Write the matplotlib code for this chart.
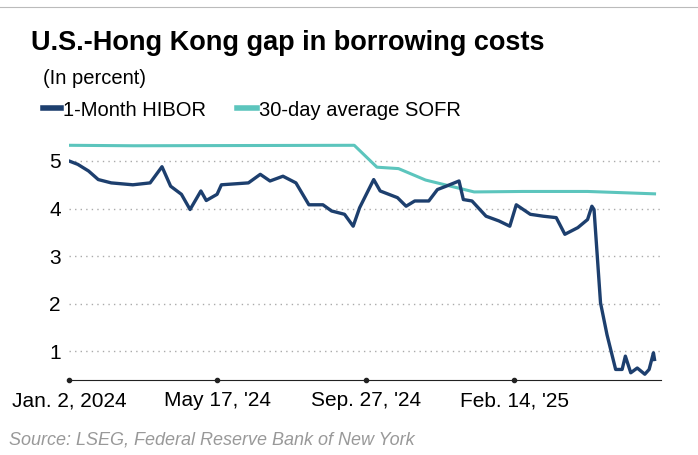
import matplotlib
matplotlib.use("Agg")
import matplotlib.pyplot as plt
import numpy as np

# days since Jan 2, 2024
hibor_days = [0,8,18,27,39,59,75,86,94,104,112,122,127,137,141,166,177,186,198,210,222,235,243,255,263,269,282,288,304,312,320,333,341,349,361,365,373,386,398,408,414,427,439,451,459,471,480,484,486,492,498,506,512,515,520,526,533,537,541,542]
hibor = [5.0,4.93,4.79,4.61,4.54,4.5,4.54,4.88,4.47,4.3,3.98,4.37,4.17,4.3,4.5,4.54,4.72,4.58,4.68,4.54,4.08,4.08,3.95,3.88,3.63,4.02,4.61,4.37,4.23,4.05,4.16,4.16,4.4,4.47,4.58,4.19,4.16,3.84,3.74,3.63,4.08,3.88,3.84,3.81,3.46,3.6,3.77,4.05,3.98,2.02,1.35,0.62,0.62,0.9,0.55,0.65,0.52,0.62,0.97,0.83]
sofr_days = [0,60,264,285,305,330,375,420,480,542]
sofr = [5.33,5.32,5.33,4.87,4.84,4.6,4.35,4.36,4.36,4.31]
tick_days = [0,137,275,412]
tick_labels = ["Jan. 2, 2024","May 17, '24","Sep. 27, '24","Feb. 14, '25"]
yticks = [1,2,3,4,5]

plt.rcParams['font.family'] = ['Liberation Sans', 'DejaVu Sans']
fig = plt.figure(figsize=(6.98,4.55), dpi=100)
ax = fig.add_axes([0.099,0.165,0.848,0.523])
navy = '#1d3f6e'; teal = '#5cc5bd'
ax.plot(sofr_days, sofr, color=teal, lw=2.2)
ax.plot(hibor_days, hibor, color=navy, lw=2.4)
ax.set_xlim(0,548)
ax.set_ylim(0.4,5.4)
ax.set_yticks(yticks)
ax.set_yticklabels([str(v) for v in yticks], fontsize=15)
ax.tick_params(axis='y', length=0, pad=6)
ax.grid(axis='y', color='#aaaaaa', ls=(0,(1,3)), lw=1)
for s in ['top','right','left']:
    ax.spines[s].set_visible(False)
ax.spines['bottom'].set_color('#222222')
ax.set_xticks(tick_days)
ax.set_xticklabels(tick_labels, fontsize=15)
ax.tick_params(axis='x', length=0, pad=8)
ax.plot(tick_days, [0.4]*4, 'o', color='#222222', ms=3, clip_on=False, zorder=5)

fig.add_artist(plt.Line2D([0,1],[0.985,0.985], color='#bbbbbb', lw=0.8))
fig.text(0.045,0.89,"U.S.-Hong Kong gap in borrowing costs", fontsize=19.5, fontweight='bold')
fig.text(0.062,0.815,"(In percent)", fontsize=14.5)
fig.add_artist(plt.Line2D([0.062,0.088],[0.762,0.762], color=navy, lw=4))
fig.text(0.09,0.745,"1-Month HIBOR", fontsize=14.5)
fig.add_artist(plt.Line2D([0.34,0.368],[0.762,0.762], color=teal, lw=4))
fig.text(0.371,0.745,"30-day average SOFR", fontsize=14.5)
fig.text(0.013,0.022,"Source: LSEG, Federal Reserve Bank of New York", fontsize=13, style='italic', color='#999999')
fig.savefig("out.png", dpi=100)
